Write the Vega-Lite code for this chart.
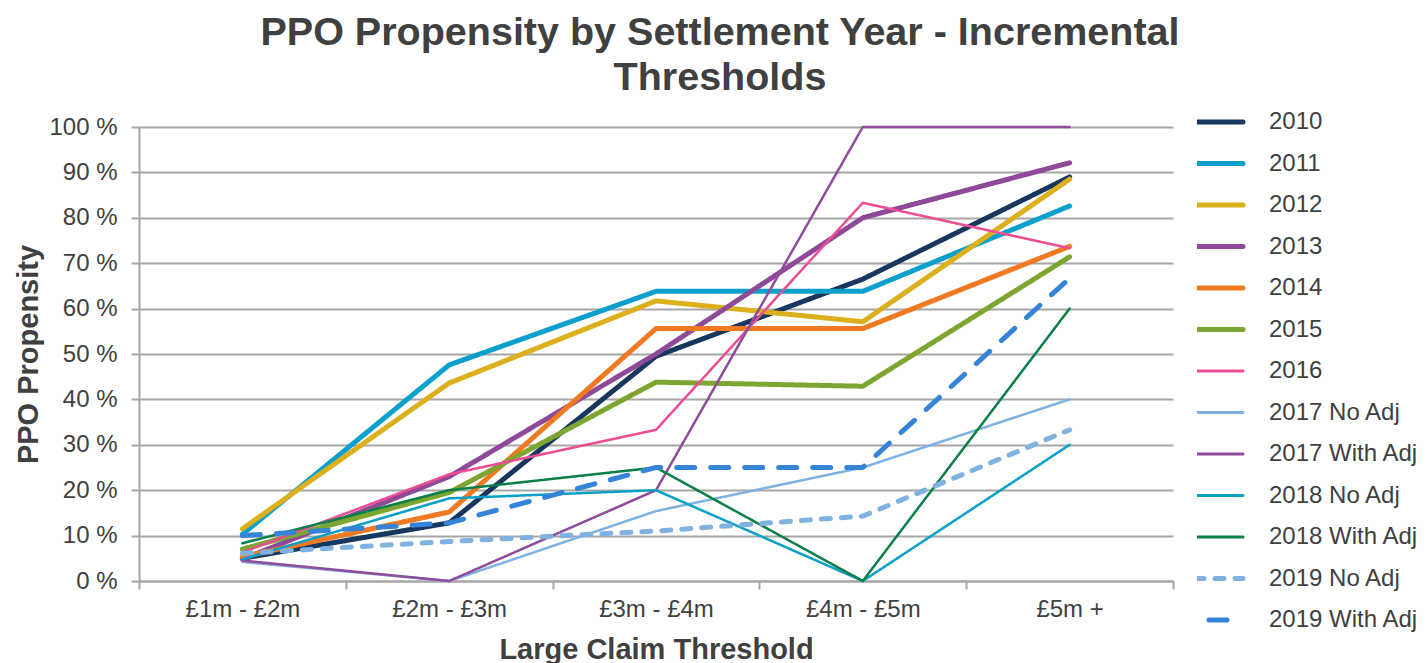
{
  "$schema": "https://vega.github.io/schema/vega-lite/v6.json",
  "width": 1034,
  "height": 454,
  "autosize": {"type": "none"},
  "padding": {"left": 139, "top": 127, "right": 254, "bottom": 82},
  "background": "white",
  "config": {"view": {"stroke": null}},
  "title": {
    "text": ["PPO Propensity by Settlement Year - Incremental", "Thresholds"],
    "font": "Liberation Sans",
    "fontSize": 39.5,
    "fontWeight": "bold",
    "color": "#404040",
    "anchor": "middle",
    "frame": "group",
    "lineHeight": 45,
    "dx": 64,
    "offset": 9
  },
  "data": {
    "values": [
      {"series": "2010", "threshold": "£1m - £2m", "propensity": 5.0},
      {"series": "2010", "threshold": "£2m - £3m", "propensity": 12.8},
      {"series": "2010", "threshold": "£3m - £4m", "propensity": 49.5},
      {"series": "2010", "threshold": "£4m - £5m", "propensity": 66.5},
      {"series": "2010", "threshold": "£5m +", "propensity": 89.0},
      {"series": "2011", "threshold": "£1m - £2m", "propensity": 10.3},
      {"series": "2011", "threshold": "£2m - £3m", "propensity": 47.6},
      {"series": "2011", "threshold": "£3m - £4m", "propensity": 63.8},
      {"series": "2011", "threshold": "£4m - £5m", "propensity": 63.8},
      {"series": "2011", "threshold": "£5m +", "propensity": 82.6},
      {"series": "2012", "threshold": "£1m - £2m", "propensity": 11.5},
      {"series": "2012", "threshold": "£2m - £3m", "propensity": 43.6},
      {"series": "2012", "threshold": "£3m - £4m", "propensity": 61.7},
      {"series": "2012", "threshold": "£4m - £5m", "propensity": 57.1},
      {"series": "2012", "threshold": "£5m +", "propensity": 88.5},
      {"series": "2013", "threshold": "£1m - £2m", "propensity": 4.8},
      {"series": "2013", "threshold": "£2m - £3m", "propensity": 23.0},
      {"series": "2013", "threshold": "£3m - £4m", "propensity": 50.0},
      {"series": "2013", "threshold": "£4m - £5m", "propensity": 80.0},
      {"series": "2013", "threshold": "£5m +", "propensity": 92.1},
      {"series": "2014", "threshold": "£1m - £2m", "propensity": 5.3},
      {"series": "2014", "threshold": "£2m - £3m", "propensity": 15.2},
      {"series": "2014", "threshold": "£3m - £4m", "propensity": 55.6},
      {"series": "2014", "threshold": "£4m - £5m", "propensity": 55.6},
      {"series": "2014", "threshold": "£5m +", "propensity": 73.7},
      {"series": "2015", "threshold": "£1m - £2m", "propensity": 7.0},
      {"series": "2015", "threshold": "£2m - £3m", "propensity": 19.5},
      {"series": "2015", "threshold": "£3m - £4m", "propensity": 43.8},
      {"series": "2015", "threshold": "£4m - £5m", "propensity": 42.9},
      {"series": "2015", "threshold": "£5m +", "propensity": 71.4},
      {"series": "2016", "threshold": "£1m - £2m", "propensity": 6.3},
      {"series": "2016", "threshold": "£2m - £3m", "propensity": 23.5},
      {"series": "2016", "threshold": "£3m - £4m", "propensity": 33.3},
      {"series": "2016", "threshold": "£4m - £5m", "propensity": 83.3},
      {"series": "2016", "threshold": "£5m +", "propensity": 73.3},
      {"series": "2017 No Adj", "threshold": "£1m - £2m", "propensity": 4.2},
      {"series": "2017 No Adj", "threshold": "£2m - £3m", "propensity": 0},
      {"series": "2017 No Adj", "threshold": "£3m - £4m", "propensity": 15.4},
      {"series": "2017 No Adj", "threshold": "£4m - £5m", "propensity": 25.0},
      {"series": "2017 No Adj", "threshold": "£5m +", "propensity": 40.0},
      {"series": "2017 With Adj", "threshold": "£1m - £2m", "propensity": 4.5},
      {"series": "2017 With Adj", "threshold": "£2m - £3m", "propensity": 0},
      {"series": "2017 With Adj", "threshold": "£3m - £4m", "propensity": 20.0},
      {"series": "2017 With Adj", "threshold": "£4m - £5m", "propensity": 100.0},
      {"series": "2017 With Adj", "threshold": "£5m +", "propensity": 100.0},
      {"series": "2018 No Adj", "threshold": "£1m - £2m", "propensity": 4.8},
      {"series": "2018 No Adj", "threshold": "£2m - £3m", "propensity": 18.2},
      {"series": "2018 No Adj", "threshold": "£3m - £4m", "propensity": 20.0},
      {"series": "2018 No Adj", "threshold": "£4m - £5m", "propensity": 0},
      {"series": "2018 No Adj", "threshold": "£5m +", "propensity": 30.0},
      {"series": "2018 With Adj", "threshold": "£1m - £2m", "propensity": 8.3},
      {"series": "2018 With Adj", "threshold": "£2m - £3m", "propensity": 20.0},
      {"series": "2018 With Adj", "threshold": "£3m - £4m", "propensity": 25.0},
      {"series": "2018 With Adj", "threshold": "£4m - £5m", "propensity": 0},
      {"series": "2018 With Adj", "threshold": "£5m +", "propensity": 60.0},
      {"series": "2019 No Adj", "threshold": "£1m - £2m", "propensity": 6.1},
      {"series": "2019 No Adj", "threshold": "£2m - £3m", "propensity": 8.7},
      {"series": "2019 No Adj", "threshold": "£3m - £4m", "propensity": 11.0},
      {"series": "2019 No Adj", "threshold": "£4m - £5m", "propensity": 14.3},
      {"series": "2019 No Adj", "threshold": "£5m +", "propensity": 33.3},
      {"series": "2019 With Adj", "threshold": "£1m - £2m", "propensity": 10.0},
      {"series": "2019 With Adj", "threshold": "£2m - £3m", "propensity": 12.8},
      {"series": "2019 With Adj", "threshold": "£3m - £4m", "propensity": 25.0},
      {"series": "2019 With Adj", "threshold": "£4m - £5m", "propensity": 25.0},
      {"series": "2019 With Adj", "threshold": "£5m +", "propensity": 66.7}
    ]
  },
  "mark": {"type": "line", "strokeCap": "round", "strokeJoin": "round"},
  "encoding": {
    "x": {
      "field": "threshold",
      "type": "nominal",
      "sort": ["£1m - £2m", "£2m - £3m", "£3m - £4m", "£4m - £5m", "£5m +"],
      "scale": {"type": "band", "paddingInner": 0, "paddingOuter": 0},
      "bandPosition": 0.5,
      "axis": {
        "title": "Large Claim Threshold",
        "labelAngle": 0,
        "tickBand": "extent",
        "grid": false,
        "labelFont": "Liberation Sans",
        "labelFontSize": 24,
        "labelColor": "#404040",
        "labelPadding": 8,
        "tickSize": 8,
        "tickColor": "#A6A6A6",
        "tickWidth": 2,
        "domainColor": "#A6A6A6",
        "domainWidth": 2,
        "titleFont": "Liberation Sans",
        "titleFontSize": 29,
        "titleFontWeight": "bold",
        "titleColor": "#404040",
        "titleY": 77,
        "titleBaseline": "alphabetic"
      }
    },
    "y": {
      "field": "propensity",
      "type": "quantitative",
      "scale": {"domain": [0, 100]},
      "axis": {
        "title": "PPO Propensity",
        "values": [0, 10, 20, 30, 40, 50, 60, 70, 80, 90, 100],
        "labelExpr": "datum.value + ' %'",
        "labelFont": "Liberation Sans",
        "labelFontSize": 24,
        "labelColor": "#404040",
        "labelPadding": 14,
        "tickSize": 8,
        "tickColor": "#A6A6A6",
        "tickWidth": 2,
        "domainColor": "#A6A6A6",
        "domainWidth": 2,
        "gridColor": "#A6A6A6",
        "gridWidth": 2,
        "titleFont": "Liberation Sans",
        "titleFontSize": 29,
        "titleFontWeight": "bold",
        "titleColor": "#404040",
        "titleX": -111,
        "titleY": 227,
        "titleAngle": -90,
        "titleAlign": "center",
        "titleBaseline": "middle"
      }
    },
    "color": {
      "field": "series",
      "type": "nominal",
      "scale": {
        "domain": ["2010", "2011", "2012", "2013", "2014", "2015", "2016", "2017 No Adj", "2017 With Adj", "2018 No Adj", "2018 With Adj", "2019 No Adj", "2019 With Adj"],
        "range": ["#17375E", "#0BA0CB", "#DCAF1C", "#8E4A98", "#F07A22", "#7CA62F", "#EC4D93", "#7FB2E0", "#904C9C", "#0AA0C8", "#0C7F48", "#7FB2E0", "#3584D8"]
      },
      "legend": {
        "orient": "none",
        "legendX": 1058,
        "legendY": -20,
        "title": null,
        "padding": 0,
        "symbolType": "stroke",
        "symbolSize": 4624,
        "clipHeight": 30,
        "rowPadding": 11.5,
        "labelFont": "Liberation Sans",
        "labelFontSize": 24,
        "labelColor": "#404040",
        "labelOffset": 48,
        "labelLimit": 300,
        "symbolStrokeWidth": 5,
        "encode": {
          "symbols": {
            "update": {
              "strokeWidth": {"signal": "indexof(['2016','2017 No Adj','2017 With Adj','2018 No Adj','2018 With Adj'], datum.value) >= 0 ? 3 : 5"},
              "strokeCap": {"value": "round"}
            }
          }
        }
      }
    },
    "strokeDash": {
      "field": "series",
      "type": "nominal",
      "scale": {
        "domain": ["2010", "2011", "2012", "2013", "2014", "2015", "2016", "2017 No Adj", "2017 With Adj", "2018 No Adj", "2018 With Adj", "2019 No Adj", "2019 With Adj"],
        "range": [[1, 0], [1, 0], [1, 0], [1, 0], [1, 0], [1, 0], [1, 0], [1, 0], [1, 0], [1, 0], [1, 0], [9, 11], [18, 16]]
      },
      "legend": {
        "orient": "none",
        "legendX": 1058,
        "legendY": -20,
        "title": null,
        "padding": 0,
        "symbolType": "stroke",
        "symbolSize": 4624,
        "clipHeight": 30,
        "rowPadding": 11.5,
        "labelFont": "Liberation Sans",
        "labelFontSize": 24,
        "labelColor": "#404040",
        "labelOffset": 48,
        "labelLimit": 300,
        "symbolStrokeWidth": 5
      }
    },
    "strokeWidth": {
      "condition": {"test": "indexof(['2016','2017 No Adj','2017 With Adj','2018 No Adj','2018 With Adj'], datum.series) >= 0", "value": 2.5},
      "value": 5
    }
  }
}
